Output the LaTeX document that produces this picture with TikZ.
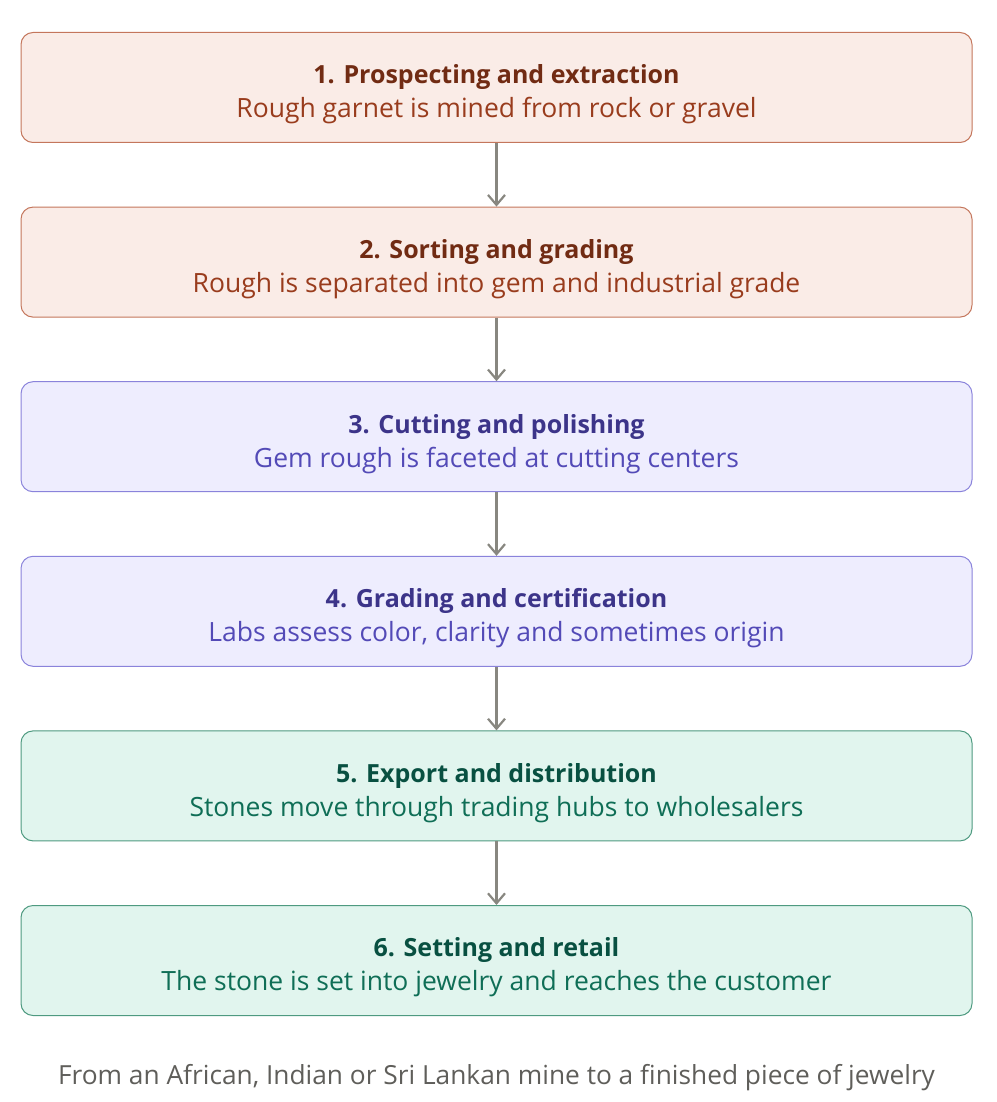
\documentclass[tikz,border=0pt]{standalone}
\usepackage{fontspec}
\setmainfont{Open Sans}
\usetikzlibrary{arrows.meta,positioning}

\definecolor{coralfill}{HTML}{FAECE7}
\definecolor{coralline}{HTML}{C4765C}
\definecolor{coraltitle}{HTML}{712B13}
\definecolor{coraltext}{HTML}{993C1D}
\definecolor{purplefill}{HTML}{EEEDFE}
\definecolor{purpleline}{HTML}{8A83DB}
\definecolor{purpletitle}{HTML}{3C3489}
\definecolor{purpletext}{HTML}{534AB7}
\definecolor{tealfill}{HTML}{E1F5EE}
\definecolor{tealline}{HTML}{4E9A80}
\definecolor{tealtitle}{HTML}{085041}
\definecolor{tealtext}{HTML}{0F6E56}
\definecolor{arrowgray}{HTML}{888780}
\definecolor{captiongray}{HTML}{5F5E5A}

\newcommand{\steptitle}[1]{{\fontsize{25}{34}\selectfont\bfseries\rule{0pt}{33pt}#1}}

\begin{document}
\begin{tikzpicture}[
    x=1pt, y=1pt,
    node distance=63.6pt,
    stage/.style={draw, rounded corners=12pt, line width=1pt,
        minimum width=951pt, minimum height=110pt, align=center,
        font=\fontsize{26.5}{34}\selectfont, inner sep=0pt},
    coral/.style={stage, fill=coralfill, draw=coralline, text=coraltext},
    purple/.style={stage, fill=purplefill, draw=purpleline, text=purpletext},
    teal/.style={stage, fill=tealfill, draw=tealline, text=tealtext},
    flow/.style={-{Straight Barb[length=10pt,width=17pt]}, line width=2.2pt, draw=arrowgray}
]
    \useasboundingbox (0,0) rectangle (996,-1102);

    \node[coral, anchor=north] (prospect) at (496.5,-32)
        {\textcolor{coraltitle}{\steptitle{1. Prospecting and extraction}}\\Rough garnet is mined from rock or gravel};
    \node[coral, below=of prospect] (sorting)
        {\textcolor{coraltitle}{\steptitle{2. Sorting and grading}}\\Rough is separated into gem and industrial grade};
    \node[purple, below=of sorting] (cutting)
        {\textcolor{purpletitle}{\steptitle{3. Cutting and polishing}}\\Gem rough is faceted at cutting centers};
    \node[purple, below=of cutting] (certify)
        {\textcolor{purpletitle}{\steptitle{4. Grading and certification}}\\Labs assess color, clarity and sometimes origin};
    \node[teal, below=of certify] (export)
        {\textcolor{tealtitle}{\steptitle{5. Export and distribution}}\\Stones move through trading hubs to wholesalers};
    \node[teal, below=of export] (retail)
        {\textcolor{tealtitle}{\steptitle{6. Setting and retail}}\\The stone is set into jewelry and reaches the customer};

    % connectors
    \foreach \a/\b in {prospect/sorting, sorting/cutting, cutting/certify, certify/export, export/retail}
        \draw[flow] (\a) -- (\b);

    \node[below=45pt of retail, text=captiongray, font=\fontsize{26.3}{30}\selectfont] (caption)
        {From an African, Indian or Sri Lankan mine to a finished piece of jewelry};
\end{tikzpicture}
\end{document}
